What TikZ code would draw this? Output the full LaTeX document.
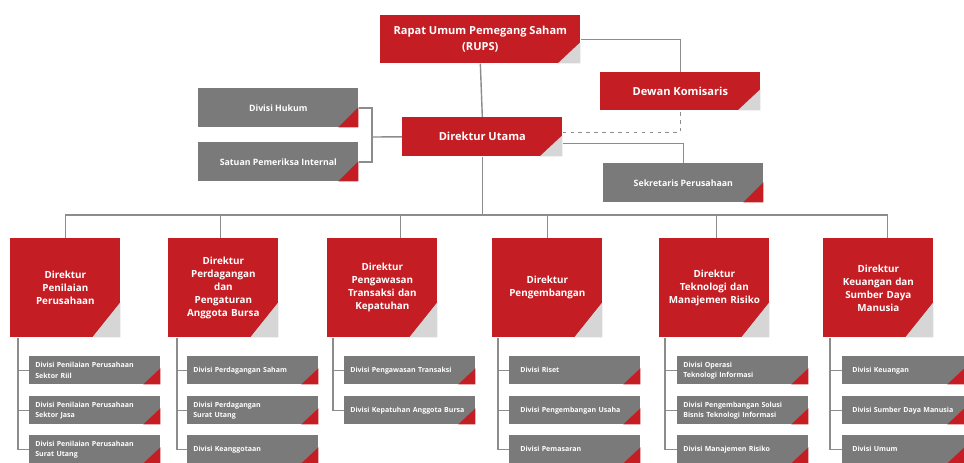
\documentclass[tikz,border=0pt]{standalone}
\usepackage{fontspec}
\setmainfont{Open Sans}

\definecolor{idxred}{HTML}{C41E24}
\definecolor{idxgray}{HTML}{7A7A7A}
\definecolor{idxlight}{HTML}{D6D6D6}
\definecolor{idxline}{HTML}{8C8C8C}

\begin{document}
\begin{tikzpicture}[x=0.02cm, y=-0.02cm,
    corner/.style n args={3}{path picture={\fill[#1] (path picture bounding box.south east) -- ++(-#2,0) -- ++(#2,#3) -- cycle;}},
    topbox/.style ={anchor=north west, fill=idxred, text=white, align=center, inner sep=0pt,
        font=\fontsize{6.3}{9.2}\selectfont\bfseries, corner={idxlight}{0.45cm}{0.42cm}},
    grybox/.style ={anchor=north west, fill=idxgray, text=white, align=center, inner sep=0pt,
        minimum width=3.2cm, minimum height=0.78cm,
        font=\fontsize{5}{7}\selectfont\bfseries, corner={idxred}{0.4cm}{0.4cm}},
    dirbox/.style ={anchor=north west, fill=idxred, text=white, align=center, inner sep=0pt,
        minimum width=2.2cm, minimum height=1.98cm, text width=2.1cm,
        font=\fontsize{5.6}{7.4}\selectfont\bfseries, corner={idxlight}{0.56cm}{0.7cm}},
    divbox/.style ={anchor=north west, fill=idxgray, text=white, align=left, inner ysep=0pt,
        inner xsep=0.12cm, minimum width=2.62cm, minimum height=0.56cm, text width=2.38cm,
        font=\fontsize{4}{5.8}\selectfont\bfseries, corner={idxred}{0.34cm}{0.32cm}},
    link/.style ={draw=idxline, line width=0.8pt}]
   \useasboundingbox (0,0) rectangle (964,463);

   % top of the chart
   \node[topbox, minimum width=4cm, minimum height=0.96cm] (rups) at (380,15) {Rapat Umum Pemegang Saham\\(RUPS)};
   \node[topbox, minimum width=3.2cm, minimum height=0.76cm] (dewan) at (600,72) {Dewan Komisaris};
   \node[topbox, minimum width=3.2cm, minimum height=0.78cm] (du) at (402,117) {Direktur Utama};
   \node[grybox] (hukum) at (198,88) {Divisi Hukum};
   \node[grybox] (spi) at (198,142) {Satuan Pemeriksa Internal};
   \node[grybox] (sekper) at (603,163) {Sekretaris Perusahaan};

   \coordinate (hk) at (372,137);
   \coordinate (bus) at (0,215);

   \draw[link] (rups.south) -- (du.north);
   \draw[link] (rups.east) -| (dewan.north);
   \draw[link, dash pattern=on 2pt off 2.5pt] ([yshift=0.09cm]du.east) -| (dewan.south);
   \draw[link] ([yshift=-0.13cm]du.east) -| (sekper.north);
   \draw[link] (hukum.east) -| (hk) |- (spi.east);
   \draw[link] (hk) -- (du.west);

   % directors
   \node[dirbox] (d1) at (10,238)  {Direktur\\Penilaian\\Perusahaan};
   \node[dirbox] (d2) at (168,238) {Direktur\\Perdagangan\\dan\\Pengaturan\\Anggota Bursa};
   \node[dirbox] (d3) at (327,238) {Direktur\\Pengawasan\\Transaksi dan\\Kepatuhan};
   \node[dirbox] (d4) at (492,238) {Direktur\\Pengembangan};
   \node[dirbox] (d5) at (659,238) {Direktur\\Teknologi dan\\Manajemen Risiko};
   \node[dirbox] (d6) at (823,238) {Direktur\\Keuangan dan\\Sumber Daya\\Manusia};

   \draw[link] (du.south) -- (du.south |- bus);
   \foreach \d/\s in {d1/0, d2/-3, d3/18, d4/0, d5/2, d6/9}
     \draw[link] (du.south |- bus) -| ([xshift=\s*0.02cm]\d.north);

   % divisions
   \node[divbox] (d1a) at (29,356)  {Divisi Penilaian Perusahaan\\Sektor Riil};
   \node[divbox] (d1b) at (29,396)  {Divisi Penilaian Perusahaan\\Sektor Jasa};
   \node[divbox] (d1c) at (29,435)  {Divisi Penilaian Perusahaan\\Surat Utang};
   \node[divbox] (d2a) at (187,356) {Divisi Perdagangan Saham};
   \node[divbox] (d2b) at (187,396) {Divisi Perdagangan\\Surat Utang};
   \node[divbox] (d2c) at (187,435) {Divisi Keanggotaan};
   \node[divbox] (d3a) at (344,356) {Divisi Pengawasan Transaksi};
   \node[divbox] (d3b) at (344,396) {Divisi Kepatuhan Anggota Bursa};
   \node[divbox, inner xsep=0.22cm, text width=2.18cm] (d4a) at (509,356) {Divisi Riset};
   \node[divbox, inner xsep=0.22cm, text width=2.18cm] (d4b) at (509,396) {Divisi Pengembangan Usaha};
   \node[divbox, inner xsep=0.22cm, text width=2.18cm] (d4c) at (509,435) {Divisi Pemasaran};
   \node[divbox] (d5a) at (677,356) {Divisi Operasi\\Teknologi Informasi};
   \node[divbox] (d5b) at (677,396) {Divisi Pengembangan Solusi\\Bisnis Teknologi Informasi};
   \node[divbox] (d5c) at (677,435) {Divisi Manajemen Risiko};
   \node[divbox, inner xsep=0.2cm, text width=2.04cm, minimum width=2.44cm] (d6a) at (842,356) {Divisi Keuangan};
   \node[divbox, inner xsep=0.2cm, text width=2.04cm, minimum width=2.44cm] (d6b) at (842,396) {\mbox{Divisi Sumber Daya Manusia}};
   \node[divbox, inner xsep=0.2cm, text width=2.04cm, minimum width=2.44cm] (d6c) at (842,435) {Divisi Umum};

   \draw[link] ([xshift=0.16cm]d1.south west) |- (d1a.west);
   \draw[link] ([xshift=0.16cm]d1.south west) |- (d1b.west);
   \draw[link] ([xshift=0.16cm]d1.south west) |- (d1c.west);
   \draw[link] ([xshift=0.18cm]d2.south west) |- (d2a.west);
   \draw[link] ([xshift=0.18cm]d2.south west) |- (d2b.west);
   \draw[link] ([xshift=0.18cm]d2.south west) |- (d2c.west);
   \draw[link] ([xshift=0.12cm]d3.south west) |- (d3a.west);
   \draw[link] ([xshift=0.12cm]d3.south west) |- (d3b.west);
   \draw[link] ([xshift=0.12cm]d4.south west) |- (d4a.west);
   \draw[link] ([xshift=0.12cm]d4.south west) |- (d4b.west);
   \draw[link] ([xshift=0.12cm]d4.south west) |- (d4c.west);
   \draw[link] ([xshift=0.12cm]d5.south west) |- (d5a.west);
   \draw[link] ([xshift=0.12cm]d5.south west) |- (d5b.west);
   \draw[link] ([xshift=0.12cm]d5.south west) |- (d5c.west);
   \draw[link] ([xshift=0.14cm]d6.south west) |- (d6a.west);
   \draw[link] ([xshift=0.14cm]d6.south west) |- (d6b.west);
   \draw[link] ([xshift=0.14cm]d6.south west) |- (d6c.west);
\end{tikzpicture}
\end{document}
